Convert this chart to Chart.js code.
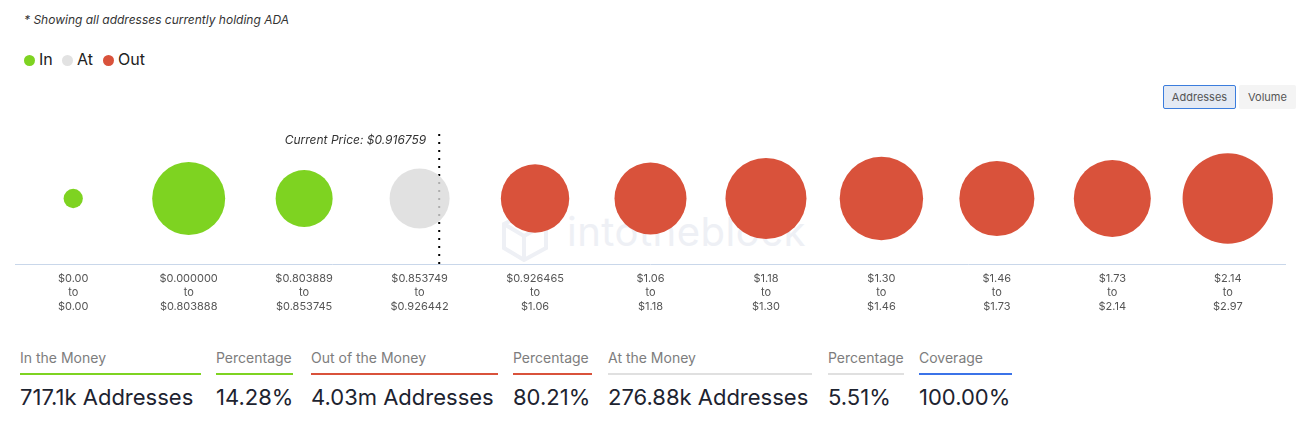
<!DOCTYPE html>
<html>
<head>
<meta charset="utf-8">
<script src="https://cdn.jsdelivr.net/npm/chart.js@4.4.1/dist/chart.umd.min.js"></script>
<style>
  html, body { margin: 0; padding: 0; background: #fff; }
  body { width: 1301px; height: 444px; position: relative; overflow: hidden; font-family: Inter, "Noto Sans", sans-serif; }
  .abs { position: absolute; }
  #note { left: 24px; top: 12px; font-size: 12px; font-style: italic; color: #333; white-space: nowrap; }
  .lg { top: 50px; font-size: 16px; color: #222; line-height: 18px; white-space: nowrap; }
  .dot { display: inline-block; width: 11px; height: 11px; border-radius: 50%; vertical-align: -1px; margin-right: 4px; }
  .btn { top: 85px; height: 24px; box-sizing: border-box; font-size: 11px; color: #555; line-height: 22px; text-align: center; border-radius: 2px; }
  #wm { left: 567px; top: 207px; font-size: 40px; color: #eef0f5; letter-spacing: 0.5px; white-space: nowrap; }
  #wrap { left: 0; top: 100px; width: 1301px; height: 220px; }
  .lab { top: 349px; font-size: 14px; color: #7d7d7d; line-height: 18px; white-space: nowrap; }
  .ul { top: 373px; height: 2px; }
  .val { top: 383px; font-size: 22px; color: #1d2330; line-height: 28px; white-space: nowrap; }
</style>
</head>
<body>
<div id="note" class="abs">* Showing all addresses currently holding ADA</div>
<div class="abs lg" style="left:24px"><span class="dot" style="background:#7ed321"></span>In</div>
<div class="abs lg" style="left:62px"><span class="dot" style="background:#e2e2e2"></span>At</div>
<div class="abs lg" style="left:103px"><span class="dot" style="background:#d9523b"></span>Out</div>
<div class="abs btn" style="left:1163px;width:73px;background:#e4eaf4;border:1px solid #3b7ddd;">Addresses</div>
<div class="abs btn" style="left:1239px;width:57px;background:#f4f4f4;line-height:24px;">Volume</div>
<svg class="abs" style="left:500px;top:212px" width="50" height="50" viewBox="0 0 50 50">
  <g fill="none" stroke="#eef0f5" stroke-width="4">
    <polygon points="4,12 24,2 46,12 46,36 24,48 4,36"/>
    <polyline points="4,12 24,24 46,12"/>
    <line x1="24" y1="24" x2="24" y2="48"/>
  </g>
</svg>
<div id="wm" class="abs">intotheblock</div>
<div id="wrap" class="abs"><canvas id="c" width="1301" height="220"></canvas></div>

<div id="stats"></div>

<script>
// ---- data ----
const rangeFrom = ['$0.00', '$0.000000', '$0.803889', '$0.853749', '$0.926465', '$1.06', '$1.18', '$1.30', '$1.46', '$1.73', '$2.14'];
const rangeTo   = ['$0.00', '$0.803888', '$0.853745', '$0.926442', '$1.06', '$1.18', '$1.30', '$1.46', '$1.73', '$2.14', '$2.97'];
const addressesK = [31, 444, 271, 300, 390, 432, 547, 580, 469, 494, 681];   // addresses (thousands)
const status = ['In', 'In', 'In', 'At', 'Out', 'Out', 'Out', 'Out', 'Out', 'Out', 'Out'];
const currentPriceLabel = 'Current Price: $0.916759';
const currentPricePos = 3.17;

const statLabels = ['In the Money', 'Percentage', 'Out of the Money', 'Percentage', 'At the Money', 'Percentage', 'Coverage'];
const statValues = ['717.1k Addresses', '14.28%', '4.03m Addresses', '80.21%', '276.88k Addresses', '5.51%', '100.00%'];

// ---- styles ----
const statusColor = { In: '#7ed321', At: 'rgba(218,218,218,0.8)', Out: '#d9523b' };
const statLeft  = [20, 216, 311, 513, 608, 828, 919];
const statWidth = [181, 77, 187, 79, 204, 76, 93];
const statLine  = ['#7ed321', '#7ed321', '#d9523b', '#d9523b', '#e0e0e0', '#e0e0e0', '#3b73e8'];

const stats = document.getElementById('stats');
statLabels.forEach((l, i) => {
  stats.insertAdjacentHTML('beforeend',
    `<div class="abs lab" style="left:${statLeft[i]}px">${l}</div>` +
    `<div class="abs ul" style="left:${statLeft[i]}px;width:${statWidth[i]}px;background:${statLine[i]}"></div>` +
    `<div class="abs val" style="left:${statLeft[i]}px">${statValues[i]}</div>`);
});

const radiusOf = v => Math.sqrt(v) * 1.732;

const bubbles = addressesK.map((v, i) => ({ x: i, y: 0.5, r: radiusOf(v) }));

const priceLabelPlugin = {
  id: 'priceLabel',
  afterDatasetsDraw(chart) {
    const { ctx, chartArea, scales } = chart;
    const px = scales.x.getPixelForValue(currentPricePos);
    ctx.save();
    ctx.font = 'italic 12px Inter, "Noto Sans", sans-serif';
    ctx.fillStyle = '#333';
    ctx.textAlign = 'right';
    ctx.textBaseline = 'middle';
    ctx.fillText(currentPriceLabel, px - 13, chartArea.top + 7);
    ctx.restore();
  }
};

new Chart(document.getElementById('c'), {
  type: 'bubble',
  data: {
    datasets: [
      {
        type: 'bubble',
        data: bubbles,
        backgroundColor: status.map(s => statusColor[s]),
        borderWidth: 0,
        hoverBorderWidth: 0,
        clip: false,
        order: 1
      },
      {
        type: 'line',
        data: [{ x: currentPricePos, y: 0 }, { x: currentPricePos, y: 1 }],
        borderColor: '#000',
        borderWidth: 2,
        borderDash: [2, 6],
        pointRadius: 0,
        fill: false,
        order: 2
      }
    ]
  },
  plugins: [priceLabelPlugin],
  options: {
    responsive: false,
    animation: false,
    devicePixelRatio: 1,
    layout: { autoPadding: false, padding: { top: 33, left: 15.5, right: 15.5, bottom: 0 } },
    plugins: { legend: { display: false }, tooltip: { enabled: false } },
    scales: {
      x: {
        type: 'linear',
        min: -0.5,
        max: 10.5,
        afterBuildTicks: s => { s.ticks = rangeFrom.map((_, i) => ({ value: i })); },
        afterFit: s => { s.height = 56; s.paddingLeft = 0; s.paddingRight = 0; },
        grid: { display: false, drawTicks: false },
        border: { display: true, color: '#c9d7ea', width: 1 },
        ticks: {
          autoSkip: false,
          maxRotation: 0,
          padding: 8,
          color: '#555',
          font: { family: 'Inter, "Noto Sans", sans-serif', size: 11, lineHeight: '14px' },
          callback: (v) => {
            const i = Math.round(v);
            return [rangeFrom[i], 'to', rangeTo[i]];
          }
        }
      },
      y: { display: false, min: 0, max: 1 }
    }
  }
});
</script>
</body>
</html>
